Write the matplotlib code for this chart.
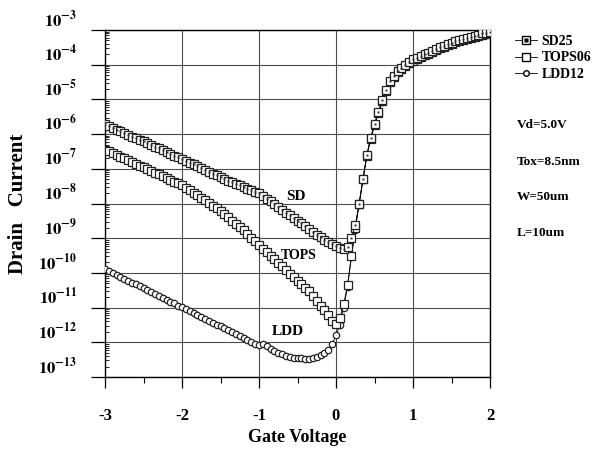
"""
Subthreshold / turn-on Id-Vg curves for SD, TOPS and LDD devices.
Writes out.png
"""

import matplotlib

matplotlib.use("Agg")
import matplotlib.pyplot as plt
import matplotlib.transforms as mtransforms
import numpy as np
from matplotlib.legend_handler import HandlerTuple
from matplotlib.lines import Line2D
from matplotlib.ticker import FixedLocator, FuncFormatter, LogLocator, MultipleLocator

# gate sweep, 50 mV steps
gate_v = np.round(np.arange(-3.0, 2.0001, 0.05), 2)

# log10 of drain current (A)
sd25_log = [
    -5.72, -5.77, -5.82, -5.87, -5.92, -5.97, -6.02, -6.07, -6.12, -6.16,
    -6.21, -6.26, -6.31, -6.36, -6.41, -6.46, -6.51, -6.56, -6.62, -6.67,
    -6.72, -6.77, -6.82, -6.87, -6.93, -6.98, -7.03, -7.08, -7.14, -7.19,
    -7.24, -7.30, -7.35, -7.39, -7.44, -7.48, -7.53, -7.57, -7.61, -7.66,
    -7.70, -7.78, -7.86, -7.94, -8.02, -8.10, -8.18, -8.26, -8.33, -8.41,
    -8.49, -8.57, -8.66, -8.74, -8.82, -8.90, -8.97, -9.05, -9.12, -9.18,
    -9.23, -9.27, -9.30, -9.25, -9.00, -8.62, -8.02, -7.28, -6.60, -6.10,
    -5.70, -5.35, -5.02, -4.72, -4.48, -4.32, -4.19, -4.09, -4.00, -3.92,
    -3.85, -3.80, -3.75, -3.70, -3.65, -3.60, -3.55, -3.50, -3.46, -3.41,
    -3.37, -3.32, -3.28, -3.25, -3.22, -3.19, -3.16, -3.13, -3.10, -3.08,
    -3.05,
]
tops06_log = [
    -6.45, -6.50, -6.55, -6.60, -6.65, -6.70, -6.75, -6.80, -6.85, -6.91,
    -6.96, -7.01, -7.06, -7.11, -7.16, -7.21, -7.26, -7.31, -7.37, -7.42,
    -7.47, -7.54, -7.62, -7.69, -7.76, -7.84, -7.91, -7.98, -8.06, -8.14,
    -8.23, -8.31, -8.40, -8.49, -8.58, -8.67, -8.77, -8.87, -8.98, -9.09,
    -9.20, -9.31, -9.41, -9.51, -9.61, -9.71, -9.81, -9.92, -10.02, -10.12,
    -10.22, -10.32, -10.43, -10.53, -10.66, -10.80, -10.94, -11.08, -11.22, -11.38,
    -11.47, -11.30, -10.90, -10.35, -9.50, -8.70, -8.00, -7.30, -6.62, -6.13,
    -5.73, -5.38, -5.05, -4.75, -4.51, -4.35, -4.22, -4.12, -4.03, -3.95,
    -3.88, -3.83, -3.78, -3.73, -3.68, -3.63, -3.58, -3.53, -3.49, -3.44,
    -3.40, -3.35, -3.31, -3.28, -3.25, -3.22, -3.19, -3.16, -3.13, -3.11,
    -3.08,
]
ldd12_log = [
    -9.89, -9.95, -10.00, -10.06, -10.11, -10.17, -10.22, -10.28, -10.33, -10.39,
    -10.44, -10.50, -10.55, -10.61, -10.66, -10.72, -10.77, -10.83, -10.88, -10.94,
    -10.99, -11.05, -11.10, -11.16, -11.21, -11.27, -11.32, -11.38, -11.43, -11.49,
    -11.54, -11.60, -11.65, -11.71, -11.76, -11.82, -11.88, -11.93, -11.98, -12.04,
    -12.07, -12.05, -12.12, -12.20, -12.25, -12.30, -12.35, -12.40, -12.42, -12.44,
    -12.46, -12.46, -12.47, -12.47, -12.46, -12.43, -12.38, -12.32, -12.22, -12.05,
    -11.80, -11.50, -11.00, -10.40, -9.55, -8.75, -8.03, -7.33, -6.64, -6.15,
    -5.75, -5.40, -5.07, -4.77, -4.53, -4.37, -4.24, -4.14, -4.05, -3.97,
    -3.90, -3.85, -3.80, -3.75, -3.70, -3.65, -3.60, -3.55, -3.51, -3.46,
    -3.42, -3.37, -3.33, -3.30, -3.27, -3.24, -3.21, -3.18, -3.15, -3.13,
    -3.10,
]

decades = [-13, -12, -11, -10, -9, -8, -7, -6, -5, -4, -3]
x_ticks = [-3, -2, -1, 0, 1, 2]
legend_labels = ["SD25", "TOPS06", "LDD12"]
conditions = ["Vd=5.0V", "Tox=8.5nm", "W=50um", "L=10um"]

SERIF = ["Liberation Serif", "DejaVu Serif"]


def setup_style():
    plt.rcParams.update(
        {
            "font.family": SERIF,
            "font.weight": "bold",
            "mathtext.fontset": "stix",
            "axes.linewidth": 1.0,
        }
    )


def main():
    setup_style()
    W, H = 594, 451
    fig = plt.figure(figsize=(W / 100, H / 100), dpi=100)
    ax = fig.add_axes([105 / W, 1 - 377 / H, 385 / W, 347 / H])

    sd = 10 ** np.array(sd25_log)
    tops = 10 ** np.array(tops06_log)
    ldd = 10 ** np.array(ldd12_log)

    line_kw = dict(color="black", lw=0.6, mec="#222222", mew=0.9)
    ax.plot(gate_v, ldd, marker="o", ms=4.6, mfc="white", zorder=3, **line_kw)
    ax.plot(gate_v, tops, marker="s", ms=5.8, mfc="white", zorder=4, **line_kw)
    ax.plot(gate_v, sd, marker="s", ms=5.8, mfc="white", zorder=5, **line_kw)
    ax.plot(gate_v, sd, ls="none", marker="s", ms=1.6, mfc="#333333", mec="none",
            zorder=6)

    ax.set_yscale("log")
    ax.set_xlim(-3, 2)
    ax.set_ylim(10.0 ** decades[0], 10.0 ** decades[-1])

    ax.xaxis.set_major_locator(FixedLocator(x_ticks))
    ax.xaxis.set_minor_locator(MultipleLocator(0.5))
    ax.xaxis.set_major_formatter(FuncFormatter(lambda v, p: f"{v:.0f}"))
    ax.yaxis.set_major_locator(FixedLocator([10.0 ** d for d in decades]))
    ax.yaxis.set_minor_locator(LogLocator(base=10, subs=np.arange(2, 10), numticks=30))
    ax.yaxis.set_major_formatter(
        FuncFormatter(lambda v, p: r"$\mathbf{10^{%d}}$" % round(np.log10(v)))
    )
    ax.yaxis.set_minor_formatter(FuncFormatter(lambda v, p: ""))

    ax.grid(True, which="major", color="0.3", lw=0.8)
    ax.tick_params(axis="x", which="major", direction="out", length=8, width=0.9,
                   pad=14, labelsize=12)
    ax.tick_params(axis="x", which="minor", direction="out", length=4, width=0.8)
    ax.tick_params(axis="y", which="major", direction="out", length=10, width=0.9,
                   pad=10, labelsize=12)
    ax.tick_params(axis="y", which="minor", direction="in", length=3, width=0.6)
    for lbl in ax.get_xticklabels():
        lbl.set_fontweight("bold")

    # decade labels sit a little above their grid lines
    shift = mtransforms.ScaledTranslation(0, 0.12, fig.dpi_scale_trans)
    for lbl in ax.get_yticklabels():
        lbl.set_transform(lbl.get_transform() + shift)

    ax.set_xlabel("Gate Voltage", fontsize=13, fontweight="bold", labelpad=4)
    ax.set_ylabel("Drain   Current", fontsize=15, fontweight="bold")
    ax.yaxis.set_label_coords(-0.2, 0.5)

    ax.text(-0.52, 10 ** -7.8, "SD", fontsize=11, fontweight="bold",
            ha="center", va="center")
    ax.text(-0.48, 10 ** -9.5, "TOPS", fontsize=10, fontweight="bold",
            ha="center", va="center")
    ax.text(-0.63, 10 ** -11.7, "LDD", fontsize=11, fontweight="bold",
            ha="center", va="center")

    h_sd = (
        Line2D([], [], color="black", lw=0.6, marker="s", ms=5.5, mfc="white",
               mec="black"),
        Line2D([], [], ls="none", marker="s", ms=2.2, mfc="black", mec="none"),
    )
    h_tops = Line2D([], [], color="black", lw=0.6, marker="s", ms=5.5, mfc="white",
                    mec="black")
    h_ldd = Line2D([], [], color="black", lw=0.6, marker="o", ms=4, mfc="white",
                   mec="black")
    fig.legend(
        [h_sd, h_tops, h_ldd],
        legend_labels,
        handler_map={tuple: HandlerTuple(ndivide=1)},
        loc="upper left",
        bbox_to_anchor=(508 / W, 1 - 28 / H),
        frameon=False,
        fontsize=10,
        handlelength=1.6,
        handletextpad=0.3,
        labelspacing=0.25,
        borderpad=0,
    )

    for txt, ypx in zip(conditions, [125, 162, 197, 233]):
        fig.text(517 / W, 1 - ypx / H, txt, fontsize=9.5, fontweight="bold",
                 ha="left", va="center")

    fig.savefig("out.png", dpi=100)
    plt.close(fig)


if __name__ == "__main__":
    main()
